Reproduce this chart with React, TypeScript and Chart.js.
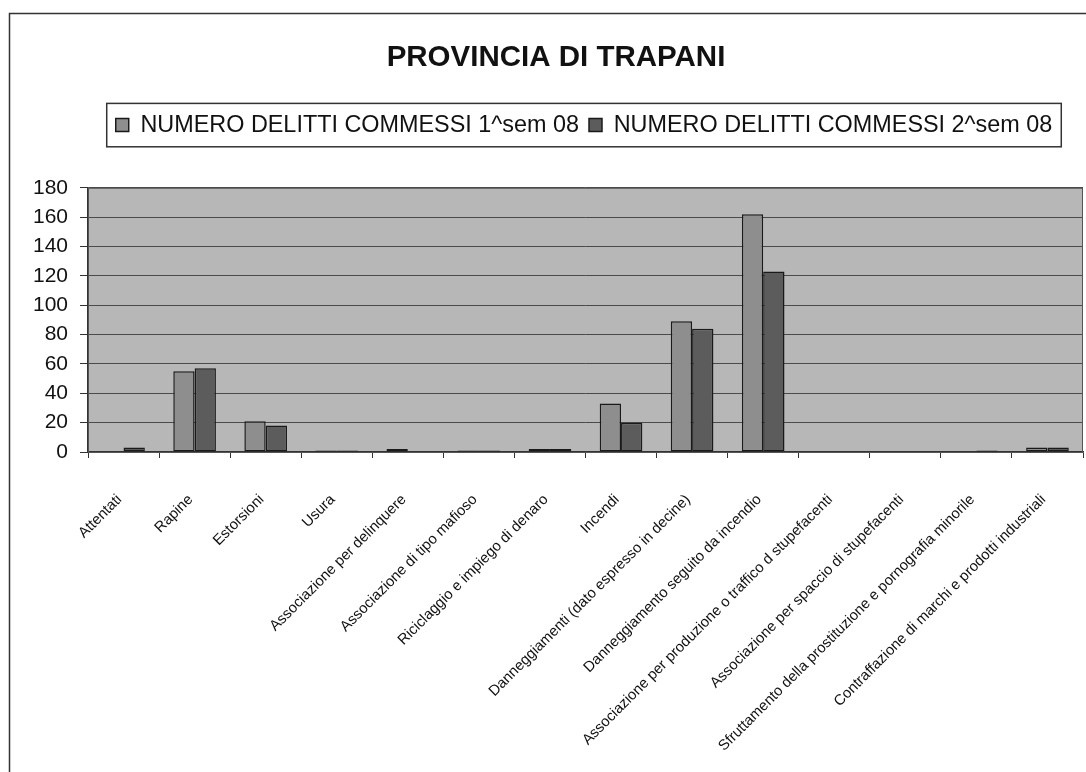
import React, { useEffect, useRef } from "react";
import { Chart, registerables } from "chart.js";

Chart.register(...registerables);

const TITLE = "PROVINCIA DI TRAPANI";
const SERIES_NAMES = [
  "NUMERO DELITTI COMMESSI 1^sem 08",
  "NUMERO DELITTI COMMESSI 2^sem 08",
];
const CATEGORIES = [
  "Attentati",
  "Rapine",
  "Estorsioni",
  "Usura",
  "Associazione per delinquere",
  "Associazione di tipo mafioso",
  "Riciclaggio e impiego di denaro",
  "Incendi",
  "Danneggiamenti (dato espresso in decine)",
  "Danneggiamento seguito da incendio",
  "Associazione per produzione o traffico d stupefacenti",
  "Associazione per spaccio di stupefacenti",
  "Sfruttamento della prostituzione e pornografia minorile",
  "Contraffazione di marchi e prodotti industriali",
];
const SEM1 = [0, 55, 21, 1, 2, 1, 2, 33, 89, 162, 0, 0, 0, 3];
const SEM2 = [3, 57, 18, 1, 0, 1, 2, 20, 84, 123, 0, 0, 1, 3];
const Y_MIN = 0;
const Y_MAX = 180;
const Y_STEP = 20;

const SANS = "'Liberation Sans', Arial, sans-serif";
const LEGEND_SHIFT = 28;

export default function App() {
  const ref = useRef<HTMLCanvasElement | null>(null);

  useEffect(() => {
    if (!ref.current) return;

    const legendTweak = {
      id: "legendTweak",
      beforeInit(chart: any) {
        const lg = chart.legend;
        const origFit = lg.fit;
        lg.fit = function () {
          origFit.bind(this)();
          this.height += 41;
        };
        const origDraw = lg.draw;
        lg.draw = function (...args: any[]) {
          const ctx = this.ctx;
          ctx.save();
          ctx.translate(LEGEND_SHIFT, 0);
          origDraw.apply(this, args);
          ctx.restore();
        };
      },
    };

    const decor = {
      id: "decor",
      beforeDraw(chart: any) {
        const { ctx, chartArea: a } = chart;
        ctx.save();
        ctx.fillStyle = "#ffffff";
        ctx.fillRect(0, 0, chart.width, chart.height);
        ctx.fillStyle = "#b7b7b7";
        ctx.fillRect(a.left, a.top, a.right - a.left, a.bottom - a.top);
        ctx.restore();
      },
      afterDraw(chart: any) {
        const { ctx, chartArea: a } = chart;
        ctx.save();
        ctx.strokeStyle = "#555555";
        ctx.lineWidth = 1;
        ctx.strokeRect(a.left + 0.5, a.top + 0.5, a.right - a.left - 1, a.bottom - a.top);
        ctx.strokeStyle = "#333333";
        ctx.lineWidth = 1.5;
        ctx.strokeRect(9.5, 13.5, 1200, 900);
        const hb = chart.legend.legendHitBoxes || [];
        if (hb.length) {
          let minX = Infinity, maxX = -Infinity, minY = Infinity, maxY = -Infinity;
          hb.forEach((b: any) => {
            minX = Math.min(minX, b.left);
            maxX = Math.max(maxX, b.left + b.width);
            minY = Math.min(minY, b.top);
            maxY = Math.max(maxY, b.top + b.height);
          });
          ctx.strokeStyle = "#333333";
          ctx.lineWidth = 1.5;
          ctx.strokeRect(minX - 9 + LEGEND_SHIFT, minY - 10, maxX - minX + 18, maxY - minY + 20);
        }
        ctx.restore();
      },
    };

    const chart = new Chart(ref.current, {
      type: "bar",
      data: {
        labels: CATEGORIES,
        datasets: [
          {
            label: SERIES_NAMES[0],
            data: SEM1,
            backgroundColor: "#8e8e8e",
            borderColor: "#1a1a1a",
            borderWidth: 1.5,
            borderSkipped: false,
            categoryPercentage: 0.6,
            barPercentage: 1.0,
          },
          {
            label: SERIES_NAMES[1],
            data: SEM2,
            backgroundColor: "#5c5c5c",
            borderColor: "#1a1a1a",
            borderWidth: 1.5,
            borderSkipped: false,
            categoryPercentage: 0.6,
            barPercentage: 1.0,
          },
        ],
      },
      options: {
        responsive: false,
        animation: false,
        layout: { padding: { left: 29, right: 3, top: 0, bottom: 0 } },
        plugins: {
          title: {
            display: true,
            text: TITLE,
            color: "#111111",
            font: { family: SANS, size: 29.5, weight: "bold" },
            padding: { top: 40, bottom: 28 },
          },
          legend: {
            display: true,
            position: "top",
            labels: {
              color: "#111111",
              font: { family: SANS, size: 23.4 },
              boxWidth: 13,
              boxHeight: 13,
              padding: 10,
            },
          },
          tooltip: { enabled: false },
        },
        scales: {
          x: {
            grid: {
              display: true,
              offset: true,
              drawOnChartArea: false,
              drawTicks: true,
              tickLength: 6,
              tickColor: "#333333",
            },
            border: { display: true, color: "#333333", width: 1.5 },
            ticks: {
              autoSkip: false,
              maxRotation: 45,
              minRotation: 45,
              padding: 33,
              labelOffset: -4,
              color: "#111111",
              font: { family: SANS, size: 14.8 },
            },
            afterFit(scale: any) {
              scale.height = 320;
              scale.paddingLeft = 0;
              scale.paddingRight = 0;
            },
          },
          y: {
            min: Y_MIN,
            max: Y_MAX,
            grid: {
              display: true,
              color: "#4a4a4a",
              lineWidth: 1,
              drawTicks: true,
              tickLength: 8,
              tickColor: "#333333",
            },
            border: { display: true, color: "#333333", width: 1.5 },
            ticks: {
              stepSize: Y_STEP,
              padding: 12,
              color: "#111111",
              font: { family: SANS, size: 21 },
            },
            afterFit(scale: any) {
              scale.width = 59;
            },
          },
        },
      },
      plugins: [legendTweak, decor],
    } as any);

    return () => chart.destroy();
  }, []);

  return (
    <div style={{ position: "absolute", left: 0, top: 0, width: 1086, height: 772, background: "#fff" }}>
      <canvas ref={ref} width={1086} height={772} style={{ display: "block" }} />
    </div>
  );
}
